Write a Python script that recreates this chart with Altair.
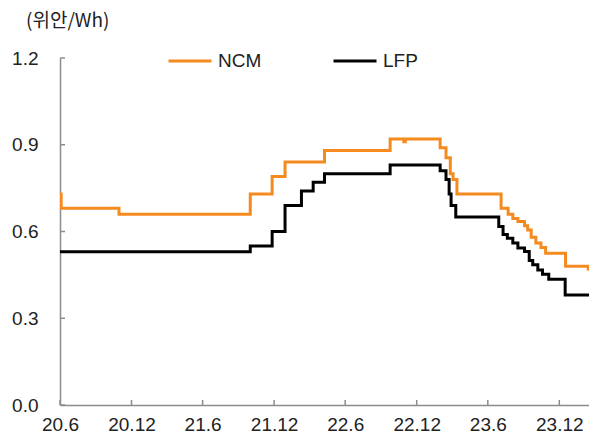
import altair as alt
import pandas as pd

# ---- data ----
series_names = ["NCM", "LFP"]
series_colors = ["#F58A1F", "#000000"]

ncm_dates = ["2020-06-01", "2020-06-04", "2020-10-30", "2021-10-01", "2021-11-26",
             "2021-12-29", "2022-04-09", "2022-09-24", "2022-10-29", "2022-11-02",
             "2023-01-30", "2023-02-14", "2023-02-25", "2023-03-04", "2023-03-14",
             "2023-07-05", "2023-07-23", "2023-08-04", "2023-08-17", "2023-09-03",
             "2023-09-11", "2023-09-20", "2023-10-02", "2023-10-15", "2023-10-27",
             "2023-12-17", "2024-02-13", "2024-02-16"]
ncm_values = [0.73, 0.68, 0.66, 0.73, 0.79,
              0.84, 0.88, 0.92, 0.91, 0.92,
              0.89, 0.855, 0.80, 0.78, 0.73,
              0.68, 0.66, 0.645, 0.635, 0.62,
              0.605, 0.58, 0.56, 0.545, 0.525,
              0.48, 0.47, 0.47]

lfp_dates = ["2020-06-01", "2021-10-01", "2021-11-26", "2021-12-29", "2022-02-09",
             "2022-03-11", "2022-04-09", "2022-09-24", "2023-01-30", "2023-02-14",
             "2023-02-22", "2023-02-27", "2023-03-11", "2023-06-29", "2023-07-10",
             "2023-07-21", "2023-08-04", "2023-08-17", "2023-09-03", "2023-09-15",
             "2023-09-24", "2023-10-07", "2023-10-19", "2023-11-04", "2023-12-16",
             "2024-02-16"]
lfp_values = [0.53, 0.55, 0.60, 0.69, 0.74,
              0.77, 0.80, 0.83, 0.81, 0.78,
              0.73, 0.69, 0.65, 0.617, 0.59,
              0.577, 0.56, 0.543, 0.531, 0.50,
              0.485, 0.467, 0.452, 0.435, 0.38,
              0.38]

x_tick_dates = ["2020-06-01", "2020-12-01", "2021-06-01", "2021-12-01",
                "2022-06-01", "2022-12-01", "2023-06-01", "2023-12-01"]
x_domain_dates = ["2020-06-01", "2024-02-15"]
y_ticks = [0.0, 0.3, 0.6, 0.9, 1.2]
title_text = "(위안/Wh)"

# ---- build tables ----
def ms(d):
    return int(pd.Timestamp(d, tz="UTC").value // 10**6)

df = pd.concat([
    pd.DataFrame({"date": ncm_dates, "value": ncm_values, "series": series_names[0]}),
    pd.DataFrame({"date": lfp_dates, "value": lfp_values, "series": series_names[1]}),
])
xticks_df = pd.DataFrame({"date": x_tick_dates})
yticks_df = pd.DataFrame({"value": y_ticks})
title_df = pd.DataFrame({"text": [title_text]})

FONT = "Liberation Sans"
TXT = "#222222"
AXC = "#8c8c8c"
W, H = 529, 347

x_scale = alt.Scale(type="utc", domain=[ms(d) for d in x_domain_dates])
y_scale = alt.Scale(domain=[0, 1.2])

x_axis = alt.Axis(values=[ms(d) for d in x_tick_dates],
                  labelExpr="utcFormat(datum.value, '%y.%-m')",
                  ticks=False, grid=False, title=None,
                  domainColor=AXC, domainWidth=1.5,
                  labelFont=FONT, labelFontSize=19, labelColor=TXT,
                  labelPadding=10, labelFlush=False, labelOverlap=False)
y_axis = alt.Axis(values=y_ticks, format=".1f", ticks=False, grid=False, title=None,
                  domainColor=AXC, domainWidth=1.5,
                  labelFont=FONT, labelFontSize=19, labelColor=TXT,
                  labelPadding=22)

lines = alt.Chart(df).mark_line(interpolate="step-after", strokeWidth=3, clip=True).encode(
    x=alt.X("date:T", scale=x_scale, axis=x_axis),
    y=alt.Y("value:Q", scale=y_scale, axis=y_axis),
    color=alt.Color("series:N",
                    scale=alt.Scale(domain=series_names, range=series_colors),
                    sort=series_names,
                    legend=alt.Legend(orient="none", legendX=107, legendY=-20,
                                      direction="horizontal", title=None,
                                      symbolType="stroke", symbolSize=1849,
                                      symbolStrokeWidth=3,
                                      labelFont=FONT, labelFontSize=19, labelColor=TXT,
                                      columnPadding=65, labelOffset=5, padding=0)),
    detail="series:N",
)

xticks = alt.Chart(xticks_df).mark_rule(color=AXC, strokeWidth=1.5).encode(
    x=alt.X("date:T", scale=x_scale),
    y=alt.value(H), y2=alt.value(H - 5),
)
yticks = alt.Chart(yticks_df).mark_rule(color=AXC, strokeWidth=1.5).encode(
    y=alt.Y("value:Q", scale=y_scale),
    x=alt.value(0), x2=alt.value(5),
)
title = alt.Chart(title_df).mark_text(
    align="left", baseline="middle", font="Noto Sans CJK KR", fontSize=19,
    color=TXT,
).encode(x=alt.value(-34), y=alt.value(-37), text="text:N")

chart = alt.layer(xticks, yticks, lines, title).properties(
    width=W, height=H,
    autosize=alt.AutoSizeParams(type="none"),
    padding={"left": 52, "top": 50, "right": 0, "bottom": 28},
).configure_view(stroke=None)

chart.save("out.html", embed_options={"renderer": "svg", "actions": False})
